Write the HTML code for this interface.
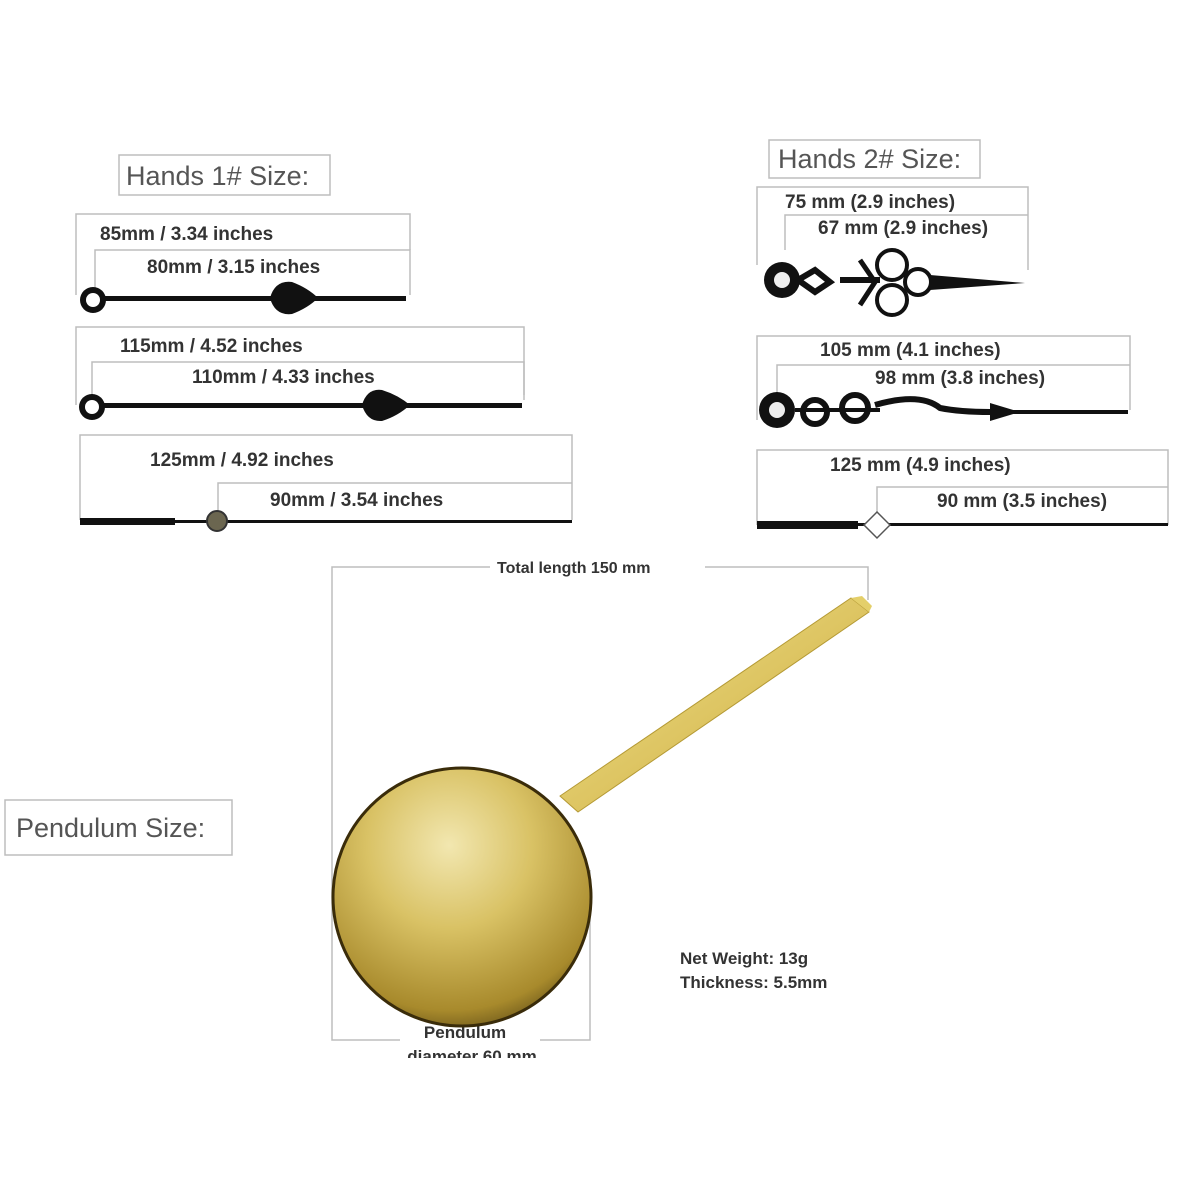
<!DOCTYPE html>
<html><head><meta charset="utf-8"><style>
html,body{margin:0;padding:0;background:#fff;}
svg{display:block}
text{font-family:"Liberation Sans",sans-serif;}
.l{font-weight:bold;font-size:19px;fill:#333}
.t{font-size:27px;fill:#555}
</style></head><body>
<svg width="1200" height="1200" viewBox="0 0 1200 1200" xmlns="http://www.w3.org/2000/svg">
<defs>
<radialGradient id="bob" cx="0.45" cy="0.3" r="0.8">
<stop offset="0" stop-color="#f2e7b0"/><stop offset="0.4" stop-color="#d9c265"/><stop offset="0.8" stop-color="#a88a2c"/><stop offset="1" stop-color="#4a3a10"/>
</radialGradient>
<linearGradient id="rod" x1="0" y1="0" x2="1" y2="1">
<stop offset="0" stop-color="#f3e38e"/><stop offset="1" stop-color="#c9a93a"/>
</linearGradient>
</defs>
<g fill="none" stroke="#bdbdbd" stroke-width="1.5">
<rect x="119" y="155" width="211" height="40"/>
<rect x="769" y="140" width="211" height="38"/>
<rect x="5" y="800" width="227" height="55"/>
<path d="M76 295V214H410V250"/><path d="M95 290V250H410V295"/>
<path d="M76 405V327H524V395"/><path d="M92 395V362H524V400"/>
<path d="M80 520V435H572V520"/><path d="M218 520V483H572"/>
<path d="M757 265V187H1028V270"/><path d="M785 250V215H1028"/>
<path d="M757 420V336H1130V410"/><path d="M777 400V365H1130"/>
<path d="M757 525V450H1168V525"/><path d="M877 525V487H1168"/>
<path d="M490 567H332V1040H400"/><path d="M705 567H868V600"/>
<path d="M540 1040H590V870"/>
</g>
<text x="126" y="185" class="t">Hands 1# Size:</text>
<text x="778" y="168" class="t">Hands 2# Size:</text>
<text x="16" y="837" class="t">Pendulum Size:</text>
<g class="l">
<text x="100" y="240" class="l">85mm / 3.34 inches</text>
<text x="147" y="273" class="l">80mm / 3.15 inches</text>
<text x="120" y="352" class="l">115mm / 4.52 inches</text>
<text x="192" y="383" class="l">110mm / 4.33 inches</text>
<text x="150" y="466" class="l">125mm / 4.92 inches</text>
<text x="270" y="506" class="l">90mm / 3.54 inches</text>
<text x="785" y="208" class="l">75 mm (2.9 inches)</text>
<text x="818" y="234" class="l">67 mm (2.9 inches)</text>
<text x="820" y="356" class="l">105 mm (4.1 inches)</text>
<text x="875" y="384" class="l">98 mm (3.8 inches)</text>
<text x="830" y="471" class="l">125 mm (4.9 inches)</text>
<text x="937" y="507" class="l">90 mm (3.5 inches)</text>
<text x="497" y="573" class="l" style="font-size:16px">Total length 150 mm</text>
<text x="680" y="964" class="l" style="font-size:17px">Net Weight: 13g</text>
<text x="680" y="988" class="l" style="font-size:17px">Thickness: 5.5mm</text>
<text x="465" y="1038" class="l" text-anchor="middle" style="font-size:17px">Pendulum</text>
<text x="472" y="1062" class="l" text-anchor="middle" style="font-size:17px">diameter 60 mm</text>
</g>
<rect x="330" y="1058" width="300" height="30" fill="#fff"/>
<g fill="#111">
<rect x="103" y="296" width="303" height="5"/>
<path d="M270 298Q275 280 292 282Q308 288 318 298Q308 308 292 314Q275 316 270 298Z"/>
<circle cx="93" cy="300" r="13"/>
<rect x="102" y="403" width="420" height="5"/>
<path d="M362 405Q367 388 382 390Q398 395 410 405Q398 416 382 421Q367 422 362 405Z"/>
<circle cx="92" cy="407" r="13"/>
<rect x="80" y="518" width="95" height="7"/>
<rect x="175" y="520" width="397" height="3"/>
</g>
<circle cx="93" cy="300" r="7" fill="#fff"/>
<circle cx="92" cy="407" r="7" fill="#fff"/>
<circle cx="217" cy="521" r="10" fill="#6b6650" stroke="#333" stroke-width="2"/>
<g fill="#111" stroke="#111">
<circle cx="782" cy="280" r="18" stroke="none"/>
<path d="M798 280L815 270L830 282L815 292Z" fill="none" stroke-width="6"/>
<path d="M840 280L880 280" stroke-width="6"/>
<circle cx="892" cy="265" r="15" fill="none" stroke-width="4"/>
<circle cx="892" cy="300" r="15" fill="none" stroke-width="4"/>
<circle cx="918" cy="282" r="13" fill="none" stroke-width="4"/>
<path d="M860 260L875 282L860 305" fill="none" stroke-width="5"/>
<path d="M930 275L1025 283L930 290Z" stroke="none"/>
<circle cx="777" cy="410" r="18" stroke="none"/>
<circle cx="815" cy="412" r="12" fill="none" stroke-width="6"/>
<circle cx="855" cy="408" r="13" fill="none" stroke-width="6"/>
<path d="M795 410L880 410" stroke-width="4"/>
<path d="M875 405Q920 392 940 408Q960 412 990 412" fill="none" stroke-width="6"/>
<path d="M990 403L1020 412L990 421Z" stroke="none"/>
<rect x="990" y="410" width="138" height="4" stroke="none"/>
<rect x="757" y="521" width="101" height="8" stroke="none"/>
<rect x="858" y="523" width="310" height="3" stroke="none"/>
</g>
<circle cx="782" cy="280" r="8" fill="#eee"/>
<circle cx="777" cy="410" r="8" fill="#eee"/>
<path d="M877 512L890 525L877 538L864 525Z" fill="#fff" stroke="#555" stroke-width="1.5"/>
<path d="M851 598L869 612L578 812L560 796Z" fill="url(#rod)" stroke="#b59a35" stroke-width="1"/>
<path d="M851 598L862 596L872 606L869 612Z" fill="#e4cf6a"/>
<circle cx="462" cy="897" r="129" fill="url(#bob)" stroke="#3a2c0a" stroke-width="3"/>
</svg>
</body></html>
